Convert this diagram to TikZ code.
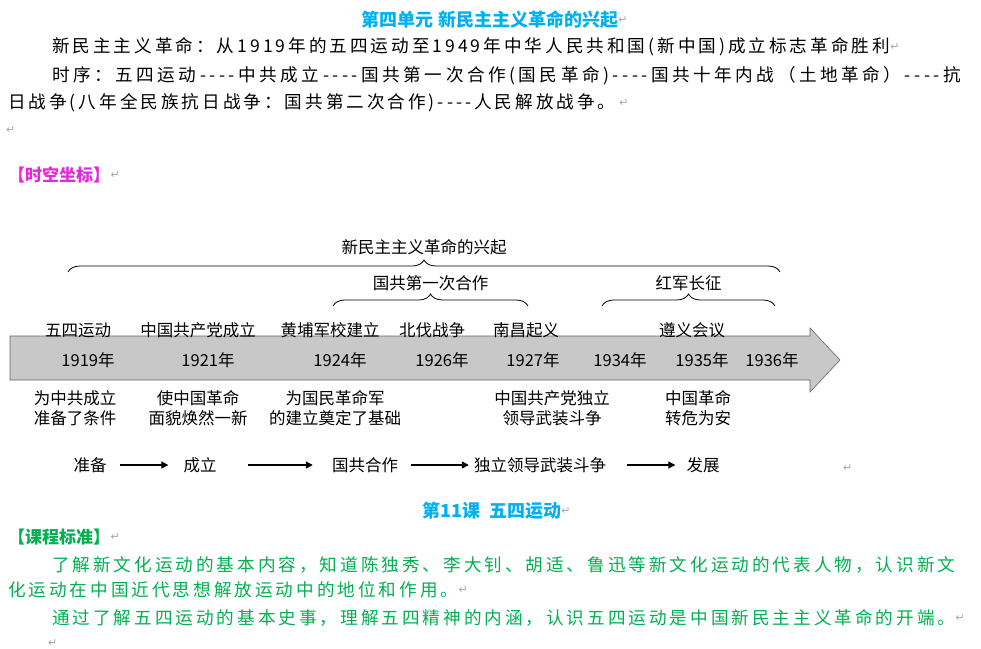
\documentclass[tikz,border=0pt]{standalone}
\usepackage{fontspec}
\setmainfont{Noto Sans CJK SC}
\newfontfamily\spacedfont{Noto Sans CJK SC}[LetterSpace=17]
\newfontfamily\widefont{Noto Sans CJK SC}[LetterSpace=20]
\newfontfamily\symfont{DejaVu Sans}
\usetikzlibrary{arrows.meta, decorations.pathreplacing}
\definecolor{titleblue}{RGB}{0,176,240}
\definecolor{stdgreen}{RGB}{0,176,80}
\definecolor{tagpink}{RGB}{230,40,220}
\definecolor{bargray}{RGB}{200,200,200}
\newcommand{\dashes}{-{}-{}-{}-}
\tikzset{
  body/.style={anchor=west, inner sep=0pt, font=\spacedfont\fontsize{17.6}{19}\selectfont},
  widebody/.style={body, font=\widefont\fontsize{17.6}{19}\selectfont},
  title/.style={inner sep=0pt, font=\fontsize{18}{20}\selectfont\bfseries, text=titleblue},
  tag/.style={anchor=west, inner sep=0pt, font=\fontsize{17}{19}\selectfont\bfseries},
  pmark/.style={anchor=west, inner sep=0pt, text=gray!70, font=\symfont\fontsize{11}{12}\selectfont},
  tl/.style={inner sep=1pt, font=\fontsize{16.5}{20}\selectfont, align=center},
  flow/.style={-{Triangle[length=7pt,width=7pt]}, line width=1.3pt},
  brc/.style={decorate, decoration={brace, amplitude=12pt}, line width=0.8pt}
}
\begin{document}
\begin{tikzpicture}[x=1pt, y=-1pt]
  \useasboundingbox (0,0) rectangle (981,648);
  % header
  \node[title] (t1) at (490,20) {第四单元\ 新民主主义革命的兴起};
  \node[pmark] at (t1.east) {↵};
  \node[body] (p1) at (52,47) {新民主主义革命：从1919年的五四运动至1949年中华人民共和国(新中国)成立标志革命胜利};
  \node[pmark] at (p1.east) {↵};
  \node[widebody] (p2) at (52,76) {时序：五四运动\dashes 中共成立\dashes 国共第一次合作(国民革命)\dashes 国共十年内战（土地革命）\dashes 抗};
  \node[body] (p3) at (8,103) {日战争(八年全民族抗日战争：国共第二次合作)\dashes 人民解放战争。};
  \node[pmark] at (p3.east) {\ ↵};
  \node[pmark] at (6,130) {↵};
  \node[tag, text=tagpink] (k1) at (8,175) {【时空坐标】};
  \node[pmark] at (k1.east) {↵};

  % timeline bar
  \fill[bargray, draw=black!60, line width=0.6pt]
    (10,336) -- (810,336) -- (810,328) -- (840,360) -- (810,392) -- (810,380) -- (10,380) -- cycle;
  \foreach \x/\y in {88/1919, 208/1921, 340/1924, 442/1926, 533/1927, 620/1934, 702/1935, 772/1936}
    \node[tl] (y\y) at (\x,360) {\y 年};
  \foreach \x/\n/\t in {78/wusi/五四运动, 198/zhonggong/中国共产党成立, 330/huangpu/黄埔军校建立,
                        432/beifa/北伐战争, 526/nanchang/南昌起义, 692/zunyi/遵义会议}
    \node[tl] (\n) at (\x,330) {\t};
  \foreach \x/\n/\t in {75/r1/{为中共成立\\准备了条件}, 198/r2/{使中国革命\\面貌焕然一新},
                        335/r3/{为国民革命军\\的建立奠定了基础}, 552/r4/{中国共产党独立\\领导武装斗争},
                        698/r5/{中国革命\\转危为安}}
    \node[tl] (\n) at (\x,408) {\t};

  % braces
  \draw[brc] (68,272) -- (780,272) node[tl, midway, above=16pt] (b1) {新民主主义革命的兴起};
  \draw[brc] (333,306) -- (528,306) node[tl, midway, above=14pt] (b2) {国共第一次合作};
  \draw[brc] (602,306) -- (775,306) node[tl, midway, above=14pt] (b3) {红军长征};

  % flow row
  \node[tl] (f1) at (90,465) {准备};
  \node[tl] (f2) at (200,465) {成立};
  \node[tl] (f3) at (365,465) {国共合作};
  \node[tl] (f4) at (540,465) {独立领导武装斗争};
  \node[tl] (f5) at (703,465) {发展};
  \draw[flow] ([xshift=12pt]f1.east) -- ([xshift=-14pt]f2.west);
  \draw[flow] ([xshift=30pt]f2.east) -- ([xshift=-18pt]f3.west);
  \draw[flow] ([xshift=12pt]f3.east) -- ([xshift=-4pt]f4.west);
  \draw[flow] ([xshift=20pt]f4.east) -- ([xshift=-10pt]f5.west);
  \node[pmark] at (843,468) {↵};

  % lesson
  \node[title] (t2) at (492,511) {第11课\ \ 五四运动};
  \node[pmark] at (t2.east) {↵};
  \node[tag, text=stdgreen] (k2) at (8,537) {【课程标准】};
  \node[pmark] at (k2.east) {↵};
  \node[body, text=stdgreen] (g1) at (52,565) {了解新文化运动的基本内容，知道陈独秀、李大钊、胡适、鲁迅等新文化运动的代表人物，认识新文};
  \node[body, text=stdgreen] (g2) at (8,590) {化运动在中国近代思想解放运动中的地位和作用。};
  \node[pmark] at (g2.east) {↵};
  \node[body, text=stdgreen] (g3) at (52,618) {通过了解五四运动的基本史事，理解五四精神的内涵，认识五四运动是中国新民主主义革命的开端。};
  \node[pmark] at (g3.east) {↵};
  \node[pmark] at (48,643) {↵};
\end{tikzpicture}
\end{document}
